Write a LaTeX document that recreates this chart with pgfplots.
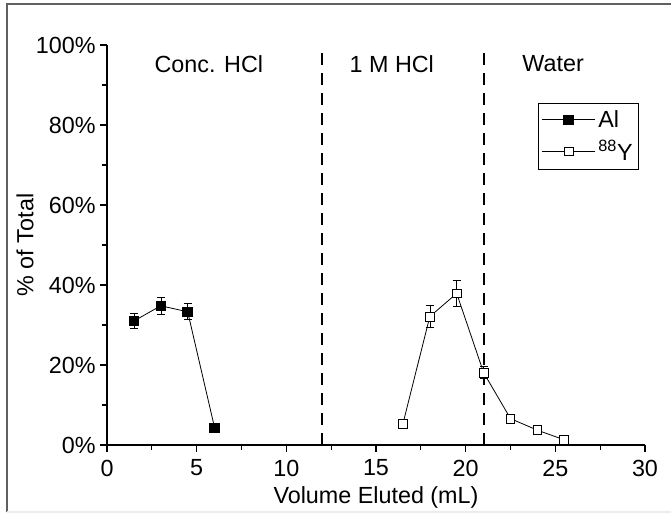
\documentclass[border=0pt]{standalone}
\usepackage{pgfplots}
\pgfplotsset{compat=1.18}
\usepackage{fontspec}
\setmainfont{Liberation Sans}
\begin{document}
\begin{tikzpicture}[x=1pt,y=1pt]
\useasboundingbox (-80.25pt,-51.75pt) rectangle (423pt,333.75pt);
\begin{axis}[
  at={(0,0)}, anchor=origin,
  scale only axis, width=403.5pt, height=300pt,
  xmin=0, xmax=30, ymin=0, ymax=100,
  axis x line*=bottom, axis y line*=left,
  axis line style={-, line width=0.9pt},
  xtick={0,5,...,30}, ytick={0,20,...,100},
  minor x tick num=1, minor y tick num=1,
  tick align=outside,
  major tick length=5pt, minor tick length=3.5pt,
  tick style={line width=0.8pt, black},
  yticklabel={\pgfmathprintnumber{\tick}\%},
  /pgf/number format/assume math mode=true,
  tick label style={font=\fontsize{17.5}{20}\selectfont},
  xticklabel style={yshift=-2.5pt},
  label style={font=\fontsize{17.5}{20}\selectfont},
  xlabel={Volume Eluted (mL)},
  ylabel={\% of Total},
  xlabel style={at={(axis description cs:0.5,-0.13)}, anchor=center},
  ylabel style={at={(axis description cs:-0.1524,0.5)}, anchor=center},
  legend style={at={(rel axis cs:0.802,0.856)}, anchor=north west,
    draw=black, line width=0.6pt, font=\fontsize{17.5}{21}\selectfont,
    inner xsep=2pt, inner ysep=3.5pt, row sep=4.5pt},
  legend cell align=left,
  legend image code/.code={\draw[#1, mark repeat=2, mark phase=2] plot coordinates {(0pt,0pt) (20pt,0pt) (40pt,0pt)};},
  clip=false,
]
\addplot[black, line width=0.6pt, mark=square*, mark size=3.6pt, mark options={fill=black, solid},
  error bars/.cd, y dir=both, y explicit, error mark options={rotate=90, mark size=3pt, line width=0.6pt, black}]
  coordinates {
  (1.5,31.0) +- (0,1.9)
  (3.0,34.8) +- (0,2.2)
  (4.5,33.3) +- (0,2.0)
  (6.0,4.3) +- (0,0)
};
\addlegendentry{Al\hspace{8pt}}
\addplot[black, line width=0.6pt, mark=square*, mark size=3.3pt, mark options={fill=white, solid},
  error bars/.cd, y dir=both, y explicit, error mark options={rotate=90, mark size=3pt, line width=0.6pt, black}]
  coordinates {
  (16.5,5.3) +- (0,0)
  (18.0,32.1) +- (0,2.75)
  (19.5,37.9) +- (0,3.3)
  (21.0,18.1) +- (0,1.5)
  (22.5,6.6) +- (0,0)
  (24.0,3.7) +- (0,0)
  (25.5,1.3) +- (0,0)
};
\addlegendentry{\textsuperscript{88}Y\hspace{8pt}}
\addplot[black, line width=1.4pt, dash pattern=on 9pt off 6pt, forget plot] coordinates {(12,0) (12,99.2)};
\addplot[black, line width=1.4pt, dash pattern=on 9pt off 6pt, forget plot] coordinates {(21,0) (21,99.2)};
\node[font=\fontsize{17.5}{20}\selectfont] at (axis cs:5.68,95.3) {Conc. HCl};
\node[font=\fontsize{17.5}{20}\selectfont] at (axis cs:15.88,95.3) {1 M HCl};
\node[font=\fontsize{17.5}{20}\selectfont] at (axis cs:24.88,95.3) {Water};
\end{axis}
\draw[gray!75!black, line width=1.3pt] (-75pt,-50.25pt) -- (-75pt,330.75pt) -- (430pt,330.75pt);
\draw[gray!15, line width=0.8pt] (-75pt,-50.25pt) -- (430pt,-50.25pt);
\end{tikzpicture}
\end{document}
